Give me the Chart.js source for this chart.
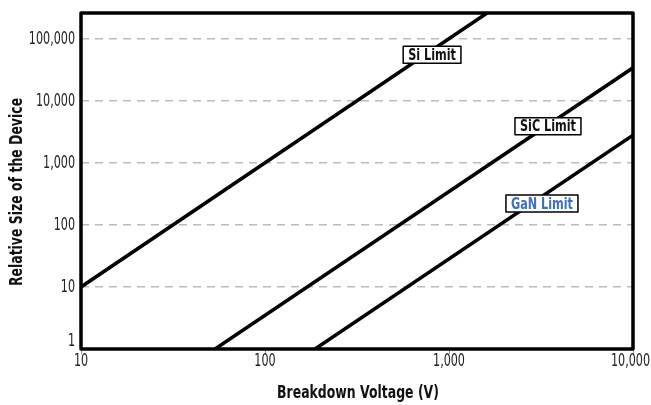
<!DOCTYPE html>
<html>
<head>
<meta charset="utf-8">
<script src="https://cdn.jsdelivr.net/npm/chart.js@4"></script>
<style>
  body { margin: 0; background: #fff; }
  #wrap { width: 651px; height: 405px; }
</style>
</head>
<body>
<div id="wrap"><canvas id="chart"></canvas></div>
<script>
'use strict';
// axis ticks
const voltageTicks = [10, 100, 1000, 10000];
const sizeTicks = [1, 10, 100, 1000, 10000, 100000];

// limit lines (end points, log-log straight lines)
const siLimit = [{ x: 10, y: 10 }, { x: 1610, y: 260000 }];
const sicLimit = [{ x: 53.5, y: 1 }, { x: 10000, y: 34000 }];
const ganLimit = [{ x: 187, y: 1 }, { x: 10000, y: 2800 }];

// label boxes: text, anchor in data coords, colour
const limitNames = ['Si Limit', 'SiC Limit', 'GaN Limit'];
const limitLabelAt = [{ x: 809, y: 55000 }, { x: 3450, y: 3900 }, { x: 3200, y: 222 }];
const limitLabelColors = ['#111', '#111', '#3d6fbf'];

const xTitle = 'Breakdown Voltage (V)';
const yTitle = 'Relative Size of the Device';

const condensed = "'DejaVu Sans Condensed', 'Liberation Sans Narrow', sans-serif";

// draw text squeezed horizontally around (x, y); the original font is very condensed
function drawNarrow(ctx, text, x, y, align, sq) {
  ctx.save();
  ctx.translate(x, y);
  ctx.scale(sq, 1);
  ctx.textAlign = align;
  ctx.fillText(text, 0, 0);
  ctx.restore();
}

const fmt = v => Number(v).toLocaleString('en-US');

const frame = {
  id: 'frame',
  afterDatasetsDraw(chart) {
    const { ctx, chartArea: a, width } = chart;
    const xs = chart.scales.x, ys = chart.scales.y;
    ctx.save();
    ctx.lineWidth = 3.5;
    ctx.strokeStyle = '#000';
    ctx.lineJoin = 'round';
    ctx.strokeRect(a.left, a.top, a.right - a.left, a.bottom - a.top);

    // tick labels
    const sq = 0.73;
    ctx.fillStyle = '#222';
    ctx.font = '17px ' + condensed;
    ctx.textBaseline = 'top';
    voltageTicks.forEach(v => {
      const txt = fmt(v);
      const half = ctx.measureText(txt).width * sq / 2;
      const px = Math.min(xs.getPixelForValue(v), width - 1 - half);
      drawNarrow(ctx, txt, px, a.bottom + 4, 'center', sq);
    });
    sizeTicks.forEach((v, i) => {
      // the lowest label sits on the bottom edge, like the original
      ctx.textBaseline = i === 0 ? 'bottom' : 'middle';
      const py = i === 0 ? a.bottom + 1 : ys.getPixelForValue(v) + 1;
      drawNarrow(ctx, fmt(v), a.left - 6, py, 'right', sq);
    });

    // axis titles
    ctx.fillStyle = '#111';
    ctx.font = 'bold 18px ' + condensed;
    ctx.textBaseline = 'middle';
    drawNarrow(ctx, xTitle, (a.left + a.right) / 2 + 1, 393, 'center', 0.77);
    ctx.save();
    ctx.translate(17, 192);
    ctx.rotate(-Math.PI / 2);
    drawNarrow(ctx, yTitle, 0, 0, 'center', 0.77);
    ctx.restore();

    // limit labels
    ctx.font = 'bold 16px ' + condensed;
    ctx.textBaseline = 'middle';
    limitNames.forEach((name, i) => {
      const px = xs.getPixelForValue(limitLabelAt[i].x);
      const py = ys.getPixelForValue(limitLabelAt[i].y);
      const w = ctx.measureText(name).width * 0.78 + 10;
      const h = 17;
      ctx.fillStyle = '#fff';
      ctx.fillRect(px - w / 2, py - h / 2, w, h);
      ctx.lineWidth = 1.5;
      ctx.strokeStyle = '#000';
      ctx.strokeRect(px - w / 2, py - h / 2, w, h);
      ctx.fillStyle = limitLabelColors[i];
      drawNarrow(ctx, name, px, py + 1, 'center', 0.78);
    });
    ctx.restore();
  }
};

function lineSet(data) {
  return {
    data: data,
    borderColor: '#000',
    borderWidth: 3.5,
    pointRadius: 0,
    fill: false,
    tension: 0
  };
}

const chartConfig = {
  type: 'line',
  data: {
    datasets: [lineSet(siLimit), lineSet(sicLimit), lineSet(ganLimit)]
  },
  options: {
    responsive: true,
    maintainAspectRatio: false,
    animation: false,
    devicePixelRatio: 1,
    layout: { padding: { top: 13, right: 18, left: 0, bottom: 0 } },
    plugins: { legend: { display: false }, tooltip: { enabled: false } },
    scales: {
      x: {
        type: 'logarithmic',
        min: 10,
        max: 10000,
        afterBuildTicks: s => { s.ticks = voltageTicks.map(v => ({ value: v })); },
        afterFit: s => { s.height = 56; },
        border: { display: false },
        grid: { drawOnChartArea: false, drawTicks: true, tickLength: 5, color: '#999' },
        ticks: { display: false, autoSkip: false }
      },
      y: {
        type: 'logarithmic',
        min: 1,
        max: 260000,
        afterBuildTicks: s => { s.ticks = sizeTicks.map(v => ({ value: v })); },
        afterFit: s => { s.width = 81; },
        border: { display: false, dash: [8, 6] },
        grid: { drawTicks: false, color: '#bbb', lineWidth: 1.5 },
        ticks: { display: false, autoSkip: false }
      }
    }
  },
  plugins: [frame]
};

new Chart(document.getElementById('chart'), chartConfig);
</script>
</body>
</html>
